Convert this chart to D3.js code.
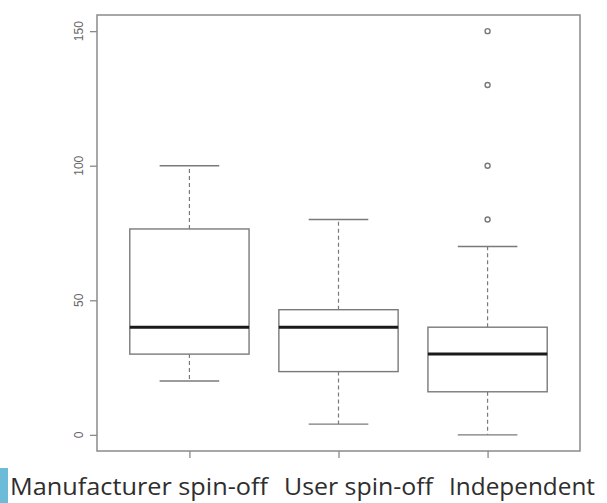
<!DOCTYPE html>
<html>
<head>
<meta charset="utf-8">
<script src="https://cdn.jsdelivr.net/npm/d3@7"></script>
<style>
  body { margin: 0; background: #fff; }
  svg { display: block; }
</style>
</head>
<body>
<svg id="chart"></svg>
<script>
// ========== DATA ==========
var categories = ['Manufacturer spin-off', 'User spin-off', 'Independent'];
var lowWhisker = [20, 4, 0];
var q1 = [30, 23.5, 16];
var medians = [40, 40, 30];
var q3 = [76.5, 46.5, 40];
var highWhisker = [100, 80, 70];
var outliers = [[], [], [150, 130, 100, 80]];
var yTicks = [0, 50, 100, 150];

makeBoxplot();

function makeBoxplot() {
	// ========== CONSTANTS ==========
	var frame_color = '#8a8a8a';
	var box_color = '#7a7a7a';
	var tick_text = '#666666';
	var label_color = '#2e2e2e';

	var width = 607;
	var height = 503;
	var left = 97, right = 580, top = 15, bottom = 451;

	var svg = d3.select('#chart')
		.attr('width', width)
		.attr('height', height);

	var x = d3.scaleLinear()
		.domain([0.38, 3.62])
		.range([left, right]);
	var y = d3.scaleLinear()
		.domain([-6, 156])
		.range([bottom, top]);

	var boxHalf = (x(1.4) - x(1)); // boxwex 0.8
	var capHalf = boxHalf / 2;

	// frame
	svg.append('rect')
		.attr('x', left)
		.attr('y', top)
		.attr('width', right - left)
		.attr('height', bottom - top)
		.attr('fill', 'none')
		.attr('stroke', frame_color)
		.attr('stroke-width', 1.5);

	// y axis
	var yAxis = svg.append('g')
		.attr('transform', 'translate(' + left + ',0)')
		.call(d3.axisLeft(y).tickValues(yTicks).tickSize(7).tickFormat(''));
	yAxis.select('.domain').remove();
	yAxis.selectAll('line').attr('stroke', frame_color).attr('stroke-width', 1.3);

	svg.selectAll('.ytick')
		.data(yTicks).enter().append('text')
			.attr('class', 'ytick')
			.attr('transform', function(d) { return 'translate(83,' + y(d) + ')rotate(-90)'; })
			.attr('text-anchor', 'middle')
			.attr('fill', tick_text)
			.style('font-family', 'Liberation Sans, Arial, sans-serif')
			.style('font-size', '12px')
			.text(function(d) { return d; });

	// x axis ticks
	var xAxis = svg.append('g')
		.attr('transform', 'translate(0,' + bottom + ')')
		.call(d3.axisBottom(x).tickValues([1, 2, 3]).tickSize(7).tickFormat(''));
	xAxis.select('.domain').remove();
	xAxis.selectAll('line').attr('stroke', frame_color).attr('stroke-width', 1.3);

	// boxes
	var data = categories.map(function(c, i) {
		return {
			name: c, pos: i + 1,
			lo: lowWhisker[i], q1: q1[i], med: medians[i], q3: q3[i], hi: highWhisker[i],
			out: outliers[i]
		};
	});

	var g = svg.selectAll('.box')
		.data(data).enter().append('g')
			.attr('class', 'box');

	// whiskers (dashed)
	g.append('line')
		.attr('x1', function(d) { return x(d.pos); })
		.attr('x2', function(d) { return x(d.pos); })
		.attr('y1', function(d) { return y(d.q3); })
		.attr('y2', function(d) { return y(d.hi); })
		.attr('stroke', box_color)
		.attr('stroke-width', 1.2)
		.style('stroke-dasharray', '4,3');
	g.append('line')
		.attr('x1', function(d) { return x(d.pos); })
		.attr('x2', function(d) { return x(d.pos); })
		.attr('y1', function(d) { return y(d.q1); })
		.attr('y2', function(d) { return y(d.lo); })
		.attr('stroke', box_color)
		.attr('stroke-width', 1.2)
		.style('stroke-dasharray', '4,3');

	// caps
	['hi', 'lo'].forEach(function(k) {
		g.append('line')
			.attr('x1', function(d) { return x(d.pos) - capHalf; })
			.attr('x2', function(d) { return x(d.pos) + capHalf; })
			.attr('y1', function(d) { return y(d[k]); })
			.attr('y2', function(d) { return y(d[k]); })
			.attr('stroke', box_color)
			.attr('stroke-width', 1.4);
	});

	// box
	g.append('rect')
		.attr('x', function(d) { return x(d.pos) - boxHalf; })
		.attr('y', function(d) { return y(d.q3); })
		.attr('width', boxHalf * 2)
		.attr('height', function(d) { return y(d.q1) - y(d.q3); })
		.attr('fill', 'white')
		.attr('stroke', box_color)
		.attr('stroke-width', 1.4);

	// median
	g.append('line')
		.attr('x1', function(d) { return x(d.pos) - boxHalf; })
		.attr('x2', function(d) { return x(d.pos) + boxHalf; })
		.attr('y1', function(d) { return y(d.med); })
		.attr('y2', function(d) { return y(d.med); })
		.attr('stroke', '#1a1a1a')
		.attr('stroke-width', 3);

	// outliers
	g.selectAll('.out')
		.data(function(d) { return d.out.map(function(v) { return { pos: d.pos, v: v }; }); })
		.enter().append('circle')
			.attr('class', 'out')
			.attr('cx', function(d) { return x(d.pos); })
			.attr('cy', function(d) { return y(d.v); })
			.attr('r', 2.5)
			.attr('fill', 'none')
			.attr('stroke', box_color)
			.attr('stroke-width', 1.4);

	// ========== CATEGORY CAPTION ==========
	svg.append('rect')
		.attr('x', 0)
		.attr('y', 468)
		.attr('width', 8)
		.attr('height', 35)
		.attr('fill', '#6cbbd8');

	var labelStart = [10, 284, 449];
	var labelLen = [258, 149, 146];
	svg.selectAll('.cat')
		.data(categories).enter().append('text')
			.attr('class', 'cat')
			.attr('x', function(d, i) { return labelStart[i]; })
			.attr('y', 495)
			.attr('textLength', function(d, i) { return labelLen[i]; })
			.attr('lengthAdjust', 'spacingAndGlyphs')
			.attr('fill', label_color)
			.style('font-family', 'Open Sans, Noto Sans, sans-serif')
			.style('font-size', '23px')
			.text(function(d) { return d; });
}
</script>
</body>
</html>
